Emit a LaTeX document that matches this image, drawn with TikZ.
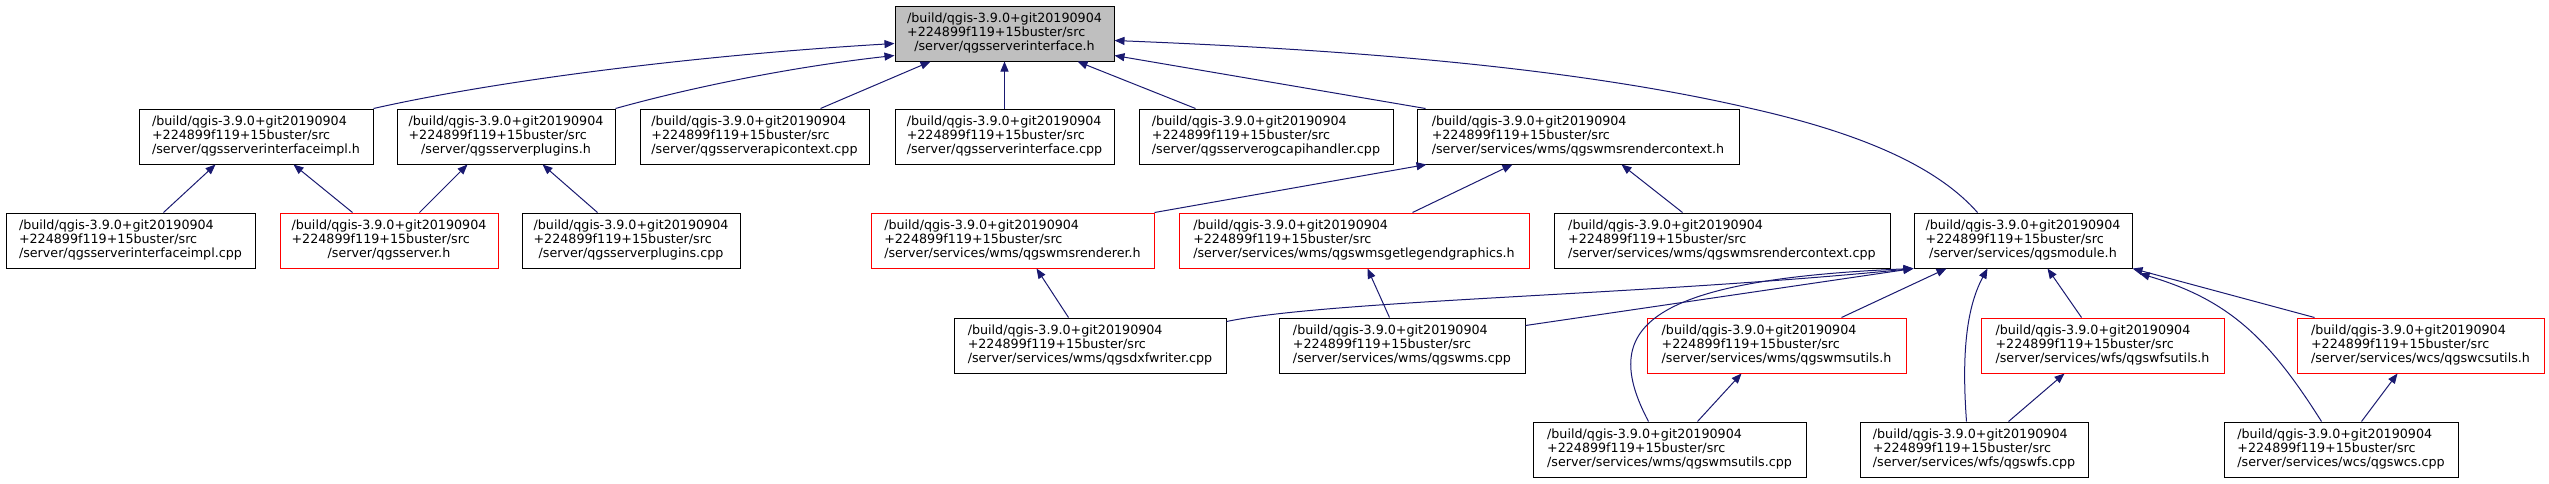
\documentclass[tikz,border=0pt]{standalone}
\usepackage{fontspec}
\setmainfont{DejaVu Sans}
\usetikzlibrary{arrows.meta,calc}
\definecolor{edgeblue}{HTML}{191970}
\definecolor{rootgray}{HTML}{BFBFBF}
\newcommand\flabel[1]{\begin{tabular}{@{}l@{}}/build/qgis-3.9.0+git20190904\\+224899f119+15buster/src\\\multicolumn{1}{@{}c@{}}{#1}\end{tabular}}
\tikzset{
  file/.style={draw=black, line width=1pt, fill=white, minimum height=55pt, inner sep=0pt, font=\fontsize{12.7}{14.3}\selectfont},
  redfile/.style={file, draw=red},
  rootfile/.style={file, fill=rootgray},
  edge/.style={draw=edgeblue, line width=1pt, -{Triangle[length=10pt,width=8pt]}}
}
\begin{document}
\begin{tikzpicture}[x=1pt,y=-1pt]
\useasboundingbox (0,0) rectangle (2549,483);
% nodes
\node[rootfile, minimum width=219pt] (root) at (1004.5,33.5) {\flabel{/server/qgsserverinterface.h}};
\node[file, minimum width=234pt] (A) at (256,136.5) {\flabel{/server/qgsserverinterfaceimpl.h}};
\node[file, minimum width=218pt] (B) at (506,136.5) {\flabel{/server/qgsserverplugins.h}};
\node[file, minimum width=229pt] (C) at (754.5,136.5) {\flabel{/server/qgsserverapicontext.cpp}};
\node[file, minimum width=219pt] (D) at (1004.5,136.5) {\flabel{/server/qgsserverinterface.cpp}};
\node[file, minimum width=254pt] (E) at (1266,136.5) {\flabel{/server/qgsserverogcapihandler.cpp}};
\node[file, minimum width=322pt] (F) at (1578,136.5) {\flabel{/server/services/wms/qgswmsrendercontext.h}};
\node[file, minimum width=249pt] (G) at (130.5,240.5) {\flabel{/server/qgsserverinterfaceimpl.cpp}};
\node[redfile, minimum width=218pt] (H) at (389,240.5) {\flabel{/server/qgsserver.h}};
\node[file, minimum width=218pt] (I) at (631,240.5) {\flabel{/server/qgsserverplugins.cpp}};
\node[redfile, minimum width=283pt] (J) at (1012.5,240.5) {\flabel{/server/services/wms/qgswmsrenderer.h}};
\node[redfile, minimum width=350pt] (K) at (1354,240.5) {\flabel{/server/services/wms/qgswmsgetlegendgraphics.h}};
\node[file, minimum width=336pt] (L) at (1722,240.5) {\flabel{/server/services/wms/qgswmsrendercontext.cpp}};
\node[file, minimum width=218pt] (M) at (2023,240.5) {\flabel{/server/services/qgsmodule.h}};
\node[file, minimum width=272pt] (N) at (1090,345.5) {\flabel{/server/services/wms/qgsdxfwriter.cpp}};
\node[file, minimum width=246pt] (O) at (1402,345.5) {\flabel{/server/services/wms/qgswms.cpp}};
\node[redfile, minimum width=259pt] (P) at (1776.5,345.5) {\flabel{/server/services/wms/qgswmsutils.h}};
\node[redfile, minimum width=243pt] (Q) at (2102.5,345.5) {\flabel{/server/services/wfs/qgswfsutils.h}};
\node[redfile, minimum width=247pt] (R) at (2420.5,345.5) {\flabel{/server/services/wcs/qgswcsutils.h}};
\node[file, minimum width=273pt] (S) at (1669.5,449.5) {\flabel{/server/services/wms/qgswmsutils.cpp}};
\node[file, minimum width=228pt] (T) at (1974,449.5) {\flabel{/server/services/wfs/qgswfs.cpp}};
\node[file, minimum width=234pt] (U) at (2341,449.5) {\flabel{/server/services/wcs/qgswcs.cpp}};
% edges to root
\draw[edge] (A.north east) .. controls (500,80) and (700,55) .. ($(root.north west)+(0,38)$);
\draw[edge] (B.north east) .. controls (700,85) and (800,66) .. ($(root.north west)+(0,50)$);
\draw[edge] ($(C.north west)+(181,0)$) -- ($(root.south west)+(36,0)$);
\draw[edge] (D.north) -- (root.south);
\draw[edge] ($(E.north west)+(57,0)$) -- ($(root.south west)+(183,0)$);
\draw[edge] ($(F.north west)+(9,0)$) -- ($(root.north east)+(0,50)$);
\draw[edge] ($(M.north west)+(64,0)$) .. controls (1940,170) and (1870,135) .. (1749,108) .. controls (1550,62) and (1300,48) .. ($(root.north east)+(0,35)$);
% row 3 to row 2
\draw[edge] ($(G.north west)+(158,0)$) -- ($(A.south west)+(77,0)$);
\draw[edge] ($(H.north west)+(73,0)$) -- ($(A.south west)+(155,0)$);
\draw[edge] ($(H.north west)+(140,0)$) -- ($(B.south west)+(71,0)$);
\draw[edge] ($(I.north west)+(76,0)$) -- ($(B.south west)+(146,0)$);
\draw[edge] (J.north east) -- ($(F.south west)+(10,0)$);
\draw[edge] ($(K.north west)+(234,0)$) -- ($(F.south west)+(96,0)$);
\draw[edge] ($(L.north west)+(129,0)$) -- ($(F.south west)+(205,0)$);
% row 4 to row 3
\draw[edge] ($(N.north west)+(115,0)$) -- ($(J.south west)+(166,0)$);
\draw[edge] ($(O.north west)+(111,0)$) -- ($(K.south west)+(189,0)$);
\draw[edge] ($(N.north east)+(0,4)$) .. controls (1330,300) and (1650,295) .. (M.south west);
\draw[edge] ($(O.north east)+(0,8)$) -- (M.south west);
\draw[edge] ($(S.north west)+(116,0)$) .. controls (1600,330) and (1640,280) .. (M.south west);
\draw[edge] ($(P.north west)+(195,0)$) -- ($(M.south west)+(33,0)$);
\draw[edge] ($(T.north west)+(107,0)$) .. controls (1962,360) and (1965,310) .. ($(M.south west)+(74,0)$);
\draw[edge] ($(Q.north west)+(101,0)$) -- ($(M.south west)+(134,0)$);
\draw[edge] ($(R.north west)+(18,0)$) -- (M.south east);
\draw[edge] ($(U.north west)+(98,0)$) .. controls (2270,340) and (2230,300) .. ($(M.south east)+(7,5)$);
% row 5 to row 4
\draw[edge] ($(S.north west)+(165,0)$) -- ($(P.south west)+(95,0)$);
\draw[edge] ($(T.north west)+(149,0)$) -- ($(Q.south west)+(84,0)$);
\draw[edge] ($(U.north west)+(138,0)$) -- ($(R.south west)+(101,0)$);
\end{tikzpicture}
\end{document}
